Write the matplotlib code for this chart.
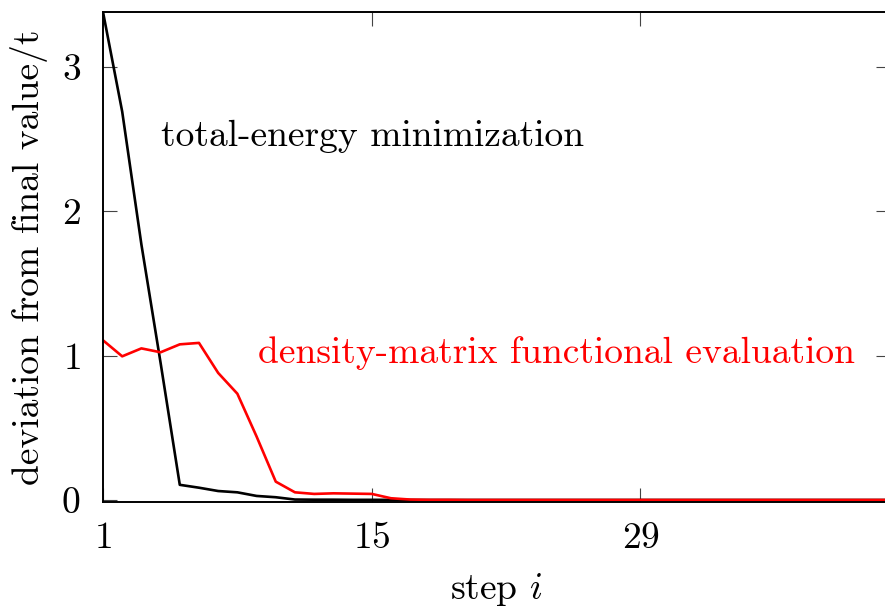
import matplotlib
matplotlib.use("Agg")
import matplotlib.pyplot as plt

plt.rcParams["font.family"] = "serif"
plt.rcParams["font.serif"] = ["cmr10", "DejaVu Serif"]
plt.rcParams["mathtext.fontset"] = "cm"
plt.rcParams["axes.formatter.use_mathtext"] = True

# шаги итераций
steps = list(range(1, 43))

# минимизация полной энергии
total_energy = [3.38, 2.69, 1.77, 0.95, 0.105, 0.085, 0.062, 0.053, 0.028, 0.019,
                0.003, 0.002, 0.002, 0.001, 0.001, 0.001, 0.0, 0.0, 0.0, 0.0,
                0.0, 0.0, 0.0, 0.0, 0.0, 0.0, 0.0, 0.0, 0.0, 0.0,
                0.0, 0.0, 0.0, 0.0, 0.0, 0.0, 0.0, 0.0, 0.0, 0.0,
                0.0, 0.0]

# функционал матрицы плотности
density_matrix = [1.106, 0.995, 1.05, 1.023, 1.078, 1.088, 0.88, 0.736, 0.44, 0.127,
                  0.053, 0.042, 0.046, 0.044, 0.042, 0.012, 0.003, 0.001, 0.001, 0.0,
                  0.0, 0.0, 0.0, 0.0, 0.0, 0.0, 0.0, 0.0, 0.0, 0.0,
                  0.0, 0.0, 0.0, 0.0, 0.0, 0.0, 0.0, 0.0, 0.0, 0.0,
                  0.0, 0.0]

x_ticks = [1, 15, 29]
y_ticks = [0, 1, 2, 3]

fig = plt.figure(figsize=(8.85, 6.1), dpi=100)
ax = fig.add_axes([103 / 885, 108 / 610, 787 / 885, 490 / 610])

ax.plot(steps, total_energy, color="black", lw=1.9)
ax.plot(steps, density_matrix, color="red", lw=1.9)

ax.set_xlim(1, 42)
ax.set_ylim(-0.014, 3.38)
ax.set_xticks(x_ticks)
ax.set_yticks(y_ticks)
ax.tick_params(direction="in", length=10, width=0.8, color="#444444",
               top=True, right=True, labelsize=27)
ax.tick_params(axis="x", pad=14)
ax.tick_params(axis="y", pad=16)
for side in ["left", "bottom", "top"]:
    ax.spines[side].set_linewidth(1.4)
ax.spines["right"].set_visible(False)

ax.set_xlabel("step $i$", fontsize=27, labelpad=12)
ax.set_ylabel("deviation from final value/t", fontsize=27, labelpad=10)

ax.text(4.0, 2.52, "total-energy minimization", color="black",
        fontsize=27, ha="left", va="center")
ax.text(9.1, 1.02, "density-matrix functional evaluation", color="red",
        fontsize=27, ha="left", va="center")

fig.savefig("out.png", dpi=100)
